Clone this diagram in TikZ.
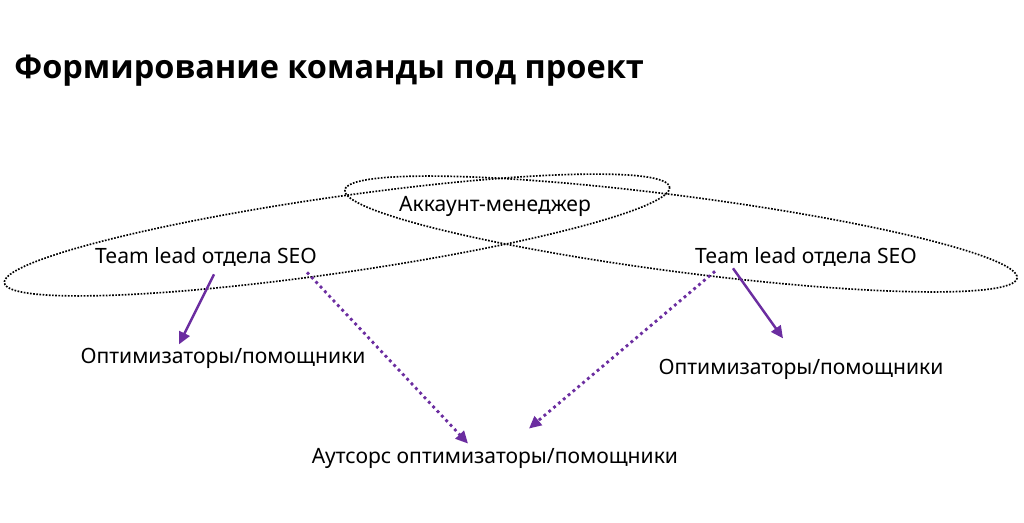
\documentclass[tikz,border=0pt]{standalone}
\usepackage{fontspec}
\setmainfont{Noto Sans}
\newfontfamily\ttlfont{Open Sans}
\usepackage{tikz}
\usetikzlibrary{arrows.meta}
\usetikzlibrary{calc}
\definecolor{lila}{RGB}{107,45,160}
\tikzstyle{t} = [inner sep=0pt, anchor=base, font=\fontsize{12}{14}\selectfont]
\tikzstyle{e} = [line width=0.95pt, dash pattern=on 0.95pt off 0.85pt]
\tikzstyle{s} = [draw=lila, line width=1.4pt, -{Triangle[length=7pt,width=6.5pt]}]
\tikzstyle{d} = [s, line width=1.6pt, dash pattern=on 1.6pt off 2pt]

\begin{document}
\begin{tikzpicture}[x=0.02cm,y=-0.02cm]
		\useasboundingbox (0,0) rectangle (1024,522);
		\node[anchor=base west, inner sep=0pt, font=\ttlfont\bfseries\fontsize{18.5}{20}\selectfont] (ttl) at (14,78) {Формирование команды под проект};
		\coordinate (c1) at (337,235);
		\coordinate (c2) at (681,234);
		\draw[e, rotate around={8.2:(c1)}] (c1) ellipse [x radius=336, y radius=38];
		\draw[e, rotate around={-7.46:(c2)}] (c2) ellipse [x radius=339, y radius=38];
		\node[t] (am) at (495,211) {Аккаунт-менеджер};
		\node[t] (tl1) at (206,263) {Team lead отдела SEO};
		\node[t] (tl2) at (806,263) {Team lead отдела SEO};
		\node[t] (op1) at (223,363) {Оптимизаторы/помощники};
		\node[t] (op2) at (801,374) {Оптимизаторы/помощники};
		\node[t] (out) at (495,463) {Аутсорс оптимизаторы/помощники};
	%	solid: own team, dotted: outsourcing
		\draw[s] ($(tl1.south)+(8,8)$) -- ($(op1.north)+(-44,-3)$);
		\draw[s] ($(tl2.south)+(-73,2)$) -- ($(op2.north)+(-18,-20)$);
		\draw[d] ($(tl1.south)+(101,6)$) -- ($(out.north)+(-27,-4)$);
		\draw[d] ($(tl2.south)+(-91,5)$) -- ($(out.north)+(34,-19)$);
	\end{tikzpicture}
\end{document}
